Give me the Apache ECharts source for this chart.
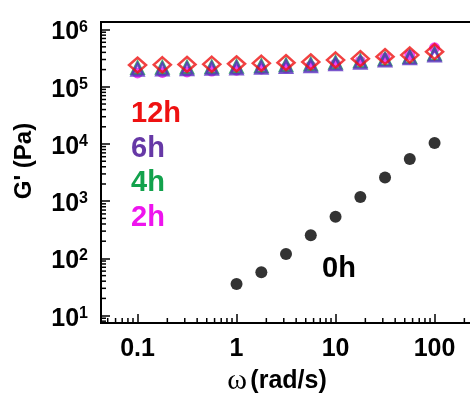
<!DOCTYPE html>
<html>
<head>
<meta charset="utf-8">
<script src="https://cdn.jsdelivr.net/npm/echarts@6/dist/echarts.min.js"></script>
<style>
  html, body { margin: 0; padding: 0; background: #ffffff; }
  #chart { width: 470px; height: 401px; }
</style>
</head>
<body>
<div id="chart"></div>
<script>
// Angular frequency (rad/s) of the frequency sweeps
const omegaGel = [0.1, 0.178, 0.316, 0.562, 1, 1.78, 3.16, 5.62, 10, 17.8, 31.6, 56.2, 100];
const omegaSol = [1, 1.78, 3.16, 5.62, 10, 17.8, 31.6, 56.2, 100];

// Storage modulus G' (Pa) after each curing time
const g12h = [240e3, 243e3, 246e3, 248e3, 252e3, 258e3, 264e3, 272e3, 294e3, 310e3, 336e3, 360e3, 411e3];
const g6h  = [200e3, 202e3, 205e3, 208e3, 212e3, 218e3, 225e3, 232e3, 250e3, 265e3, 290e3, 320e3, 355e3];
const g4h  = [215e3, 218e3, 220e3, 222e3, 226e3, 232e3, 240e3, 248e3, 265e3, 282e3, 305e3, 335e3, 375e3];
const g2h  = [175e3, 178e3, 182e3, 188e3, 195e3, 205e3, 215e3, 230e3, 250e3, 280e3, 320e3, 360e3, 480e3];
const g0h  = [35.6, 57.5, 120, 255, 533, 1180, 2600, 5450, 10400];

// Tick labels
const xTickValues = [0.1, 1, 10, 100];
const xTickLabels = ['0.1', '1', '10', '100'];
const yTickExponents = [1, 2, 3, 4, 5, 6];

const seriesNames = ['12h', '6h', '4h', '2h', '0h'];
const seriesColors = {
  '12h': '#ee1111',
  '6h': '#6638a6',
  '4h': '#12a24c',
  '2h': '#ee14ee',
  '0h': '#000000'
};

const FONT = '"Liberation Sans", Arial, sans-serif';

// Axis extents (log scale)
const xMin = 0.04276, xMax = 468.8;
const yMin = 7.43, yMax = 1.358e6;

function isPow10(v) {
  const l = Math.log10(v);
  return Math.abs(l - Math.round(l)) < 1e-6;
}

// Minor ticks at 2..9 x 10^n
const xMinor = [];
for (let e = -2; e <= 2; e++) {
  for (let m = 2; m <= 9; m++) {
    const v = m * Math.pow(10, e);
    if (v > xMin && v < xMax) xMinor.push([v, yMin]);
  }
}
const yMinor = [];
for (let e = 0; e <= 6; e++) {
  for (let m = 2; m <= 9; m++) {
    const v = m * Math.pow(10, e);
    if (v > yMin && v < yMax) yMinor.push([xMin, v]);
  }
}

function pairs(xs, ys) { return xs.map((x, i) => [x, ys[i]]); }

const chart = echarts.init(document.getElementById('chart'), null, { renderer: 'canvas' });

const option = {
  backgroundColor: '#ffffff',
  animation: false,
  grid: {
    left: 101, top: 22, width: 400, height: 301,
    containLabel: false, outerBoundsMode: 'none',
    show: true, borderColor: '#000', borderWidth: 2, backgroundColor: 'transparent'
  },
  xAxis: {
    type: 'log', logBase: 10, min: xMin, max: xMax,
    axisLine: { show: true, lineStyle: { color: '#000', width: 2 } },
    axisTick: { show: true, inside: true, length: 9, lineStyle: { color: '#000', width: 1.5 } },
    splitLine: { show: false },
    axisLabel: {
      margin: 14,
      color: '#000',
      fontFamily: FONT, fontWeight: 'bold', fontSize: 25,
      showMinLabel: true, showMaxLabel: true,
      formatter: function (v) {
        if (!isPow10(v)) return '';
        const i = xTickValues.findIndex(t => Math.abs(Math.log10(t) - Math.log10(v)) < 1e-6);
        return i >= 0 ? xTickLabels[i] : '';
      }
    }
  },
  yAxis: {
    type: 'log', logBase: 10, min: yMin, max: yMax,
    axisLine: { show: true, lineStyle: { color: '#000', width: 2 } },
    axisTick: { show: true, inside: true, length: 9, lineStyle: { color: '#000', width: 1.5 } },
    splitLine: { show: false },
    axisLabel: {
      margin: 13,
      color: '#000',
      padding: [5, 0, 0, 0],
      showMinLabel: true, showMaxLabel: true,
      formatter: function (v) {
        if (!isPow10(v)) return '';
        const e = Math.round(Math.log10(v));
        if (yTickExponents.indexOf(e) < 0) return '';
        return '{b|10}{s|' + e + '}';
      },
      rich: {
        b: { fontFamily: FONT, fontWeight: 'bold', fontSize: 25, lineHeight: 26, padding: [7, 0, 0, 0], verticalAlign: 'bottom', color: '#000' },
        s: { fontFamily: FONT, fontWeight: 'bold', fontSize: 16, lineHeight: 16, verticalAlign: 'top', color: '#000' }
      }
    }
  },
  series: [
    {
      name: 'minor-x', type: 'custom', silent: true, clip: false, z: 5,
      data: xMinor,
      renderItem: function (params, api) {
        const p = api.coord([api.value(0), api.value(1)]);
        return { type: 'line', shape: { x1: p[0], y1: p[1], x2: p[0], y2: p[1] - 5 },
                 style: { stroke: '#000', lineWidth: 1.5 } };
      }
    },
    {
      name: 'minor-y', type: 'custom', silent: true, clip: false, z: 5,
      data: yMinor,
      renderItem: function (params, api) {
        const p = api.coord([api.value(0), api.value(1)]);
        return { type: 'line', shape: { x1: p[0], y1: p[1], x2: p[0] + 5, y2: p[1] },
                 style: { stroke: '#000', lineWidth: 1.5 } };
      }
    },
    {
      name: '2h', type: 'scatter', z: 2,
      data: pairs(omegaGel, g2h),
      symbol: 'circle', symbolSize: 11,
      itemStyle: { color: seriesColors['2h'] }
    },
    {
      name: '4h', type: 'scatter', z: 3,
      data: pairs(omegaGel, g4h),
      symbol: 'triangle', symbolSize: 12,
      itemStyle: { color: 'transparent', borderColor: seriesColors['4h'], borderWidth: 2.5 }
    },
    {
      name: '6h', type: 'scatter', z: 4,
      data: pairs(omegaGel, g6h),
      symbol: 'triangle', symbolSize: 12,
      itemStyle: { color: 'transparent', borderColor: '#5a2dc0', borderWidth: 2.5 }
    },
    {
      name: '12h', type: 'scatter', z: 6,
      data: pairs(omegaGel, g12h),
      symbol: 'diamond', symbolSize: [17, 15],
      itemStyle: { color: 'transparent', borderColor: seriesColors['12h'], borderWidth: 2.5 }
    },
    {
      name: '0h', type: 'scatter', z: 6,
      data: pairs(omegaSol, g0h),
      symbol: 'circle', symbolSize: 12,
      itemStyle: { color: seriesColors['0h'] }
    }
  ],
  graphic: [
    { type: 'text', style: { x: 131, y: 114, text: '12h', fill: seriesColors['12h'], font: 'bold 29px ' + FONT, textVerticalAlign: 'middle' } },
    { type: 'text', style: { x: 131, y: 149, text: '6h', fill: seriesColors['6h'], font: 'bold 29px ' + FONT, textVerticalAlign: 'middle' } },
    { type: 'text', style: { x: 131, y: 183, text: '4h', fill: seriesColors['4h'], font: 'bold 29px ' + FONT, textVerticalAlign: 'middle' } },
    { type: 'text', style: { x: 131, y: 218, text: '2h', fill: seriesColors['2h'], font: 'bold 29px ' + FONT, textVerticalAlign: 'middle' } },
    { type: 'text', style: { x: 339, y: 269, text: '0h', fill: seriesColors['0h'], font: 'bold 29px ' + FONT, textAlign: 'center', textVerticalAlign: 'middle' } },
    { type: 'text', x: 24, y: 161, rotation: Math.PI / 2,
      style: { x: 0, y: 0, text: "G' (Pa)", fill: '#000', font: 'bold 24px ' + FONT, textAlign: 'center', textVerticalAlign: 'middle' } },
    { type: 'text', style: { x: 277, y: 381, text: '{w|ω} {t|(rad/s)}', textAlign: 'center', textVerticalAlign: 'middle',
      rich: {
        w: { fontFamily: '"Liberation Serif", "DejaVu Serif", serif', fontSize: 30, fill: '#000' },
        t: { fontFamily: FONT, fontWeight: 'bold', fontSize: 25, fill: '#000' }
      } } }
  ]
};

chart.setOption(option);
</script>
</body>
</html>
